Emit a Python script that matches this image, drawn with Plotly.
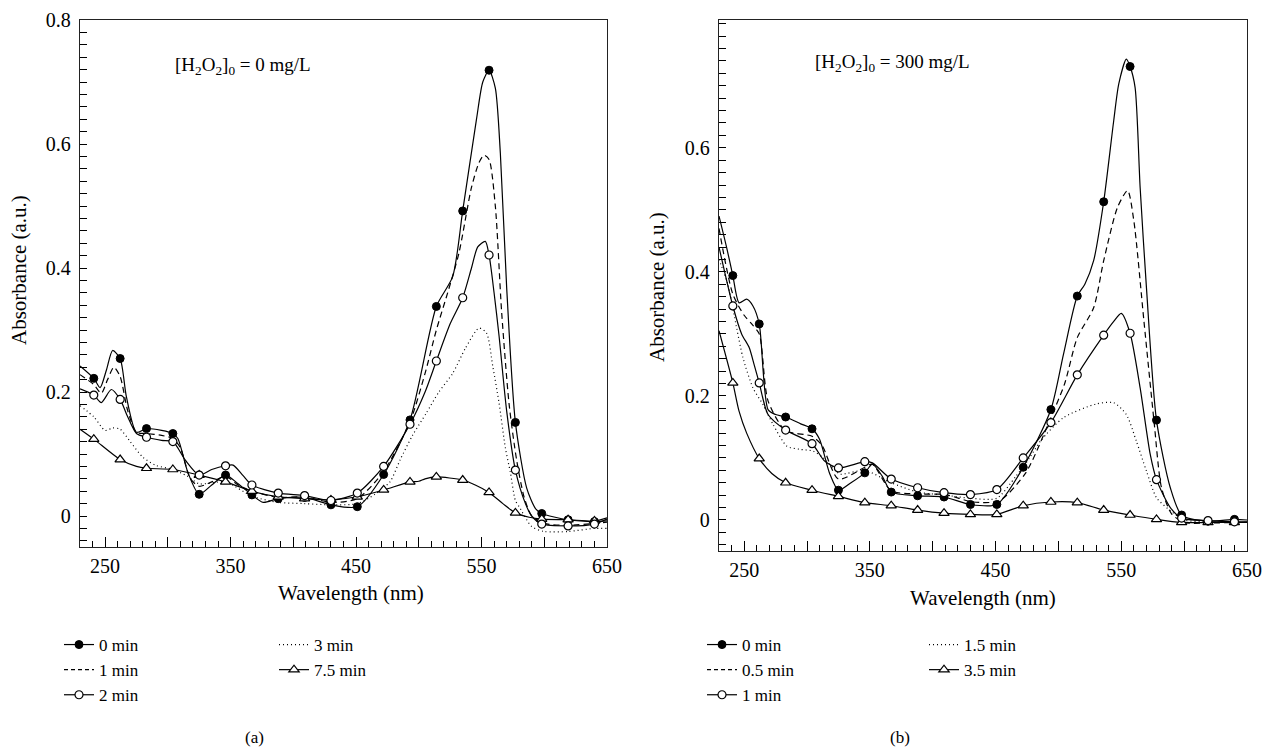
import plotly.graph_objects as go

W, H = 1263, 748
FONT = "Liberation Serif, Times New Roman, serif"

# ---------------- panel (a): [H2O2]0 = 0 mg/L ----------------
MK_WL_A = [241, 262, 283, 304, 325, 346, 367, 388, 409, 430, 451, 472, 493, 514, 535, 556, 577, 598, 619, 640]

A_0_WL = [230, 241, 246, 251, 256, 262, 267, 275, 283, 295, 304, 308, 316, 325, 335, 346, 356, 367, 376, 388, 409, 430, 451,
          472, 493, 514, 527, 535, 546, 551, 556, 561, 565, 570, 577, 586, 593, 598, 619, 640, 650]
A_0_AB = [0.242, 0.222, 0.207, 0.235, 0.267, 0.254, 0.192, 0.135, 0.141, 0.138, 0.133, 0.125, 0.07, 0.035, 0.05, 0.066, 0.052,
          0.034, 0.022, 0.028, 0.030, 0.018, 0.015, 0.067, 0.155, 0.338, 0.386, 0.492, 0.64, 0.70, 0.719, 0.69, 0.585, 0.37,
          0.151, 0.045, 0.012, 0.004, -0.006, -0.009, -0.008]
A_0_MK = [0.222, 0.254, 0.141, 0.133, 0.035, 0.066, 0.034, 0.028, 0.03, 0.018, 0.015, 0.067, 0.155, 0.338, 0.492, 0.719,
          0.151, 0.004, -0.006, -0.009]

A_1_WL = [230, 241, 247, 252, 257, 262, 268, 275, 283, 295, 304, 310, 318, 325, 335, 346, 356, 367, 388, 409, 430, 451, 472,
          493, 505, 514, 523, 532, 542, 548, 552, 556, 561, 566, 572, 578, 584, 590, 600, 619, 640, 650]
A_1_AB = [0.228, 0.212, 0.198, 0.22, 0.24, 0.225, 0.17, 0.135, 0.133, 0.13, 0.125, 0.11, 0.06, 0.048, 0.055, 0.064, 0.05,
          0.04, 0.03, 0.031, 0.022, 0.028, 0.072, 0.152, 0.23, 0.3, 0.36, 0.424, 0.53, 0.57, 0.582, 0.575, 0.50, 0.33, 0.18,
          0.09, 0.03, 0.0, -0.012, -0.015, -0.012, -0.01]

A_2_WL = [230, 241, 247, 255, 262, 268, 275, 283, 295, 304, 314, 325, 335, 346, 352, 360, 367, 388, 409, 430, 451, 472, 493,
          505, 514, 525, 535, 542, 547, 553, 556, 560, 564, 570, 577, 585, 590, 598, 619, 640, 650]
A_2_AB = [0.205, 0.195, 0.183, 0.204, 0.188, 0.16, 0.133, 0.127, 0.122, 0.12, 0.09, 0.066, 0.075, 0.081, 0.082, 0.065, 0.05,
          0.037, 0.033, 0.025, 0.037, 0.08, 0.148, 0.2, 0.25, 0.31, 0.352, 0.40, 0.434, 0.443, 0.421, 0.36, 0.29, 0.17, 0.074,
          0.02, 0.0, -0.013, -0.016, -0.013, -0.005]
A_2_MK = [0.195, 0.188, 0.127, 0.12, 0.066, 0.081, 0.05, 0.037, 0.033, 0.025, 0.037, 0.08, 0.148, 0.25, 0.352, 0.421, 0.074,
          -0.013, -0.016, -0.013]

A_3_WL = [230, 241, 250, 256, 262, 270, 280, 290, 304, 315, 325, 346, 367, 388, 409, 430, 451, 465, 477, 485, 495, 506, 516,
          527, 537, 548, 554, 559, 564, 569, 573, 577, 580, 590, 600, 619, 640, 650]
A_3_AB = [0.178, 0.16, 0.138, 0.142, 0.14, 0.12, 0.095, 0.082, 0.075, 0.065, 0.052, 0.055, 0.032, 0.022, 0.02, 0.018, 0.02,
          0.035, 0.055, 0.09, 0.13, 0.166, 0.2, 0.23, 0.27, 0.303, 0.295, 0.241, 0.182, 0.11, 0.07, 0.025, 0.015, -0.017,
          -0.025, -0.025, -0.02, -0.02]

A_75_WL = [230, 241, 262, 275, 283, 304, 325, 346, 367, 388, 409, 430, 451, 472, 493, 500, 505, 514, 535, 545, 556, 567, 577,
           588, 598, 619, 640, 650]
A_75_AB = [0.14, 0.124, 0.091, 0.08, 0.077, 0.075, 0.066, 0.055, 0.04, 0.031, 0.028, 0.026, 0.031, 0.042, 0.055, 0.056, 0.06,
           0.063, 0.058, 0.05, 0.038, 0.02, 0.005, -0.002, -0.005, -0.006, -0.008, -0.003]
A_75_MK = [0.124, 0.091, 0.077, 0.075, 0.066, 0.055, 0.04, 0.031, 0.028, 0.026, 0.031, 0.042, 0.055, 0.063, 0.058, 0.038,
           0.005, -0.005, -0.006, -0.008]

# ---------------- panel (b): [H2O2]0 = 300 mg/L ----------------
MK_WL_B = [241, 262, 283, 304, 325, 346, 367, 388, 409, 430, 451, 472, 494, 515, 536, 557, 578, 598, 619, 640]

B_0_WL = [230, 236, 241, 246, 252, 257, 262, 269, 275, 283, 295, 304, 310, 318, 325, 335, 346, 352, 360, 367, 388, 409, 430,
          451, 472, 494, 504, 515, 521, 528, 536, 544, 548, 554, 557, 561, 565, 570, 578, 589, 598, 619, 640, 650]
B_0_AB = [0.49, 0.44, 0.394, 0.35, 0.356, 0.345, 0.316, 0.178, 0.17, 0.166, 0.155, 0.147, 0.13, 0.075, 0.048, 0.06, 0.076,
          0.09, 0.07, 0.045, 0.039, 0.037, 0.025, 0.025, 0.085, 0.178, 0.267, 0.361, 0.38, 0.418, 0.513, 0.644, 0.703, 0.743,
          0.731, 0.697, 0.536, 0.375, 0.161, 0.052, 0.008, -0.002, 0.001, 0.0]
B_0_MK = [0.394, 0.316, 0.166, 0.147, 0.048, 0.076, 0.045, 0.039, 0.037, 0.025, 0.025, 0.085, 0.178, 0.361, 0.513, 0.731,
          0.161, 0.008, -0.002, 0.001]

B_05_WL = [230, 241, 250, 256, 262, 269, 283, 304, 312, 325, 346, 352, 367, 388, 410, 432, 453, 474, 494, 505, 515, 528, 536,
           547, 555, 560, 568, 576, 582, 590, 600, 619, 640, 650]
B_05_AB = [0.47, 0.364, 0.33, 0.316, 0.3, 0.192, 0.144, 0.135, 0.12, 0.066, 0.085, 0.09, 0.047, 0.042, 0.041, 0.029, 0.031,
           0.076, 0.165, 0.22, 0.294, 0.342, 0.418, 0.504, 0.531, 0.482, 0.321, 0.16, 0.052, 0.01, -0.004, -0.005, -0.004,
           -0.004]

B_1_WL = [230, 241, 248, 254, 258, 262, 269, 283, 304, 314, 325, 346, 352, 367, 388, 409, 430, 451, 472, 494, 515, 536, 544,
          550, 557, 565, 573, 578, 589, 598, 619, 640, 650]
B_1_AB = [0.44, 0.345, 0.3, 0.278, 0.25, 0.221, 0.17, 0.145, 0.123, 0.095, 0.084, 0.094, 0.092, 0.066, 0.052, 0.044, 0.041,
          0.049, 0.1, 0.157, 0.234, 0.298, 0.32, 0.333, 0.301, 0.213, 0.106, 0.065, 0.02, 0.003, -0.001, -0.003, -0.003]
B_1_MK = [0.345, 0.221, 0.145, 0.123, 0.084, 0.094, 0.066, 0.052, 0.044, 0.041, 0.049, 0.1, 0.157, 0.234, 0.298, 0.301,
          0.065, 0.003, -0.001, -0.003]

B_15_WL = [230, 237, 244, 249, 257, 265, 273, 284, 294, 305, 313, 321, 326, 346, 367, 388, 410, 430, 451, 466, 477, 486, 504,
           530, 544, 554, 562, 570, 578, 589, 600, 619, 640, 650]
B_15_AB = [0.42, 0.38, 0.31, 0.262, 0.213, 0.186, 0.154, 0.119, 0.114, 0.111, 0.1, 0.084, 0.074, 0.08, 0.06, 0.045, 0.04,
           0.035, 0.035, 0.07, 0.1, 0.128, 0.165, 0.187, 0.189, 0.17, 0.127, 0.079, 0.036, 0.015, 0.0, -0.003, -0.004, -0.004]

B_35_WL = [230, 241, 246, 252, 262, 272, 283, 304, 325, 346, 367, 388, 409, 430, 451, 472, 494, 515, 536, 557, 578, 598, 619,
           640, 650]
B_35_AB = [0.305, 0.221, 0.175, 0.14, 0.099, 0.075, 0.06, 0.048, 0.038, 0.028, 0.023, 0.016, 0.011, 0.009, 0.009, 0.023,
           0.029, 0.028, 0.016, 0.008, 0.001, -0.004, -0.004, -0.004, -0.004]
B_35_MK = [0.221, 0.099, 0.06, 0.048, 0.038, 0.028, 0.023, 0.016, 0.011, 0.009, 0.009, 0.023, 0.029, 0.028, 0.016, 0.008,
           0.001, -0.004, -0.004, -0.004]

X_LABELS = [250, 350, 450, 550, 650]
X_HALF = [300, 400, 500, 600]
LEG_A = ["0 min", "1 min", "2 min", "3 min", "7.5 min"]
LEG_B = ["0 min", "0.5 min", "1 min", "1.5 min", "3.5 min"]

# marker styles
FILLED = dict(symbol="circle", size=8, color="black", line=dict(color="black", width=1))
OPEN = dict(symbol="circle", size=8, color="white", line=dict(color="black", width=1.2))
TRI = dict(symbol="triangle-up", size=9, color="white", line=dict(color="black", width=1.2))

fig = go.Figure()


def add_line(wl, ab, xa, ya, dash="solid"):
    fig.add_trace(go.Scatter(x=wl, y=ab, mode="lines", xaxis=xa, yaxis=ya, showlegend=False,
                             line=dict(color="black", width=1.2, dash=dash, shape="spline", smoothing=0.7),
                             hoverinfo="skip"))


def add_marks(wl, ab, xa, ya, mk):
    fig.add_trace(go.Scatter(x=wl, y=ab, mode="markers", xaxis=xa, yaxis=ya, showlegend=False,
                             marker=mk, hoverinfo="skip"))


def add_leg(name, legend, dash="solid", mk=None):
    fig.add_trace(go.Scatter(x=[None], y=[None], name=name, legend=legend,
                             mode="lines+markers" if mk else "lines",
                             line=dict(color="black", width=1.2, dash=dash),
                             marker=mk if mk else None))


# panel (a)
add_line(A_75_WL, A_75_AB, "x", "y")
add_line(A_3_WL, A_3_AB, "x", "y", "1px,3px")
add_line(A_1_WL, A_1_AB, "x", "y", "6px,4px")
add_line(A_2_WL, A_2_AB, "x", "y")
add_line(A_0_WL, A_0_AB, "x", "y")
add_marks(MK_WL_A, A_0_MK, "x", "y", FILLED)
add_marks(MK_WL_A, A_75_MK, "x", "y", TRI)
add_marks(MK_WL_A, A_2_MK, "x", "y", OPEN)

# panel (b)
add_line(B_35_WL, B_35_AB, "x2", "y2")
add_line(B_15_WL, B_15_AB, "x2", "y2", "1px,3px")
add_line(B_05_WL, B_05_AB, "x2", "y2", "6px,4px")
add_line(B_1_WL, B_1_AB, "x2", "y2")
add_line(B_0_WL, B_0_AB, "x2", "y2")
add_marks(MK_WL_B, B_0_MK, "x2", "y2", FILLED)
add_marks(MK_WL_B, B_35_MK, "x2", "y2", TRI)
add_marks(MK_WL_B, B_1_MK, "x2", "y2", OPEN)

# empty traces so the overlay axes (longer ticks at 300, 400, ...) get drawn
fig.add_trace(go.Scatter(x=[None], y=[None], xaxis="x3", yaxis="y", showlegend=False))
fig.add_trace(go.Scatter(x=[None], y=[None], xaxis="x4", yaxis="y2", showlegend=False))

# legends: two columns per panel
add_leg(LEG_A[0], "legend", mk=FILLED)
add_leg(LEG_A[1], "legend", dash="4px,3px")
add_leg(LEG_A[2], "legend", mk=OPEN)
add_leg(LEG_A[3], "legend2", dash="1px,3px")
add_leg(LEG_A[4], "legend2", mk=TRI)
add_leg(LEG_B[0], "legend3", mk=FILLED)
add_leg(LEG_B[1], "legend3", dash="4px,3px")
add_leg(LEG_B[2], "legend3", mk=OPEN)
add_leg(LEG_B[3], "legend4", dash="1px,3px")
add_leg(LEG_B[4], "legend4", mk=TRI)


def xaxis(left, right):
    return dict(domain=[left / W, right / W], range=[230, 650], automargin=False,
                tickvals=X_LABELS,
                ticks="inside", ticklen=10, tickwidth=1, tickcolor="black",
                minor=dict(dtick=10, tick0=0, ticks="inside", ticklen=6, tickwidth=1, tickcolor="black"),
                showline=True, linecolor="#222", linewidth=1.3, mirror=True,
                showgrid=False, zeroline=False, ticklabelstandoff=1,
                tickfont=dict(family=FONT, size=20, color="black"))


def xhalf(over, anchor):
    return dict(overlaying=over, anchor=anchor, range=[230, 650], tickvals=X_HALF, automargin=False,
                showticklabels=False, ticks="inside", ticklen=10, tickwidth=1, tickcolor="black",
                showline=False, showgrid=False, zeroline=False)


def yaxis(bottom, top, anchor, rmax, vals):
    return dict(domain=[1 - bottom / H, 1 - top / H], range=[-0.05, rmax], anchor=anchor, automargin=False,
                tickvals=vals, ticktext=["0" if v == 0 else f"{v:.1f}" for v in vals],
                ticks="inside", ticklen=7, tickwidth=1, tickcolor="black",
                minor=dict(dtick=0.02, tick0=0, ticks="inside", ticklen=7, tickwidth=1, tickcolor="black"),
                showline=True, linecolor="#222", linewidth=1.3, mirror=True,
                showgrid=False, zeroline=False, ticklabelstandoff=4,
                tickfont=dict(family=FONT, size=20, color="black"))


def leg(xpx, ypx):
    return dict(x=xpx / W, y=1 - ypx / H, xanchor="left", yanchor="top", orientation="v",
                bgcolor="rgba(0,0,0,0)", font=dict(family=FONT, size=17, color="black"),
                itemwidth=30, traceorder="normal")


def note(text, xpx, ypx, size=18, angle=0, xanchor="left"):
    return dict(text=text, x=xpx / W, y=1 - ypx / H, xref="paper", yref="paper", showarrow=False,
                xanchor=xanchor, yanchor="middle", textangle=angle,
                font=dict(family=FONT, size=size, color="black"))


fig.update_layout(
    width=W, height=H,
    margin=dict(l=0, r=0, t=0, b=0, autoexpand=False),
    paper_bgcolor="white", plot_bgcolor="white",
    font=dict(family=FONT, color="black"),
    xaxis=xaxis(80, 607),
    yaxis=yaxis(547, 20, "x", 0.8, [0, 0.2, 0.4, 0.6, 0.8]),
    xaxis2=dict(xaxis(719, 1247), anchor="y2"),
    yaxis2=yaxis(551, 20, "x2", 0.806, [0, 0.2, 0.4, 0.6]),
    xaxis3=xhalf("x", "y"),
    xaxis4=xhalf("x2", "y2"),
    legend=leg(59, 627),
    legend2=leg(274, 627),
    legend3=leg(702, 627),
    legend4=leg(924, 627),
    annotations=[
        note("[H<sub>2</sub>O<sub>2</sub>]<sub>0</sub> = 0 mg/L", 173, 66, size=19),
        note("[H<sub>2</sub>O<sub>2</sub>]<sub>0</sub> = 300 mg/L", 813, 63, size=19),
        note("Wavelength (nm)", 351, 593, size=21, xanchor="center"),
        note("Wavelength (nm)", 983, 598, size=21, xanchor="center"),
        note("Absorbance (a.u.)", 19, 270, size=21, angle=-90, xanchor="center"),
        note("Absorbance (a.u.)", 657, 287, size=21, angle=-90, xanchor="center"),
        note("(a)", 254, 737, size=17, xanchor="center"),
        note("(b)", 900, 737, size=17, xanchor="center"),
    ],
)

# put the figure flush with the page corner (no default body margin)
PIN = ("document.body.style.margin='0';document.body.style.overflow='hidden';"
       "document.documentElement.style.overflow='hidden';"
       "var gd=document.getElementsByClassName('plotly-graph-div')[0];"
       "gd.style.position='absolute';gd.style.left='0px';gd.style.top='0px';")

fig.write_html("out.html", config={"displayModeBar": False}, post_script=PIN)
